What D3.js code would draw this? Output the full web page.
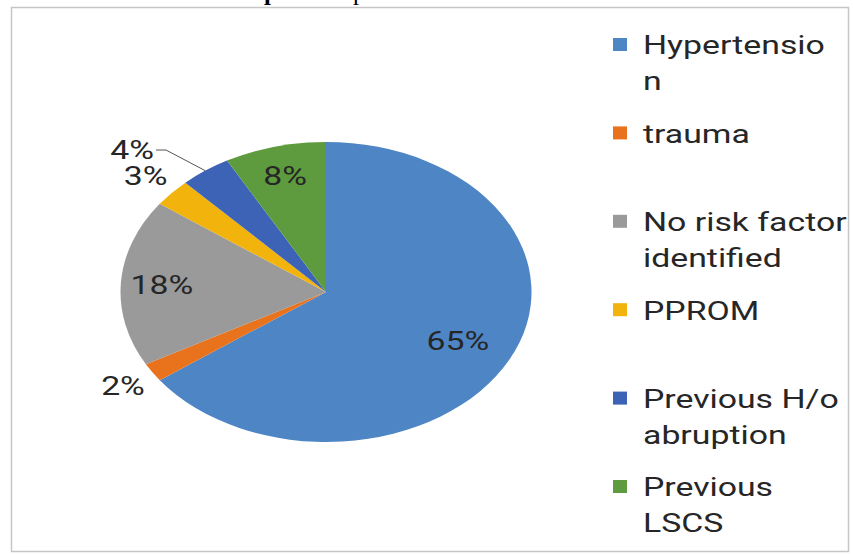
<!DOCTYPE html>
<html>
<head>
<meta charset="utf-8">
<script src="https://cdn.jsdelivr.net/npm/d3@7/dist/d3.min.js"></script>
<style>
  body { margin: 0; background: #fff; }
  text { font-family: Roboto, "Noto Sans", sans-serif; }
</style>
</head>
<body>
<svg id="chart" width="853" height="554"></svg>
<script>
// Risk factors and their share of cases (%)
const categories = ["Hypertension", "trauma", "No risk factor identified", "PPROM", "Previous H/o abruption", "Previous LSCS"];
const values = [65, 2, 18, 3, 4, 8];
const colors = ["#4e85c5", "#e9721d", "#9a9a9a", "#f1b30c", "#3c63b6", "#5e9b3e"];
// Legend text as it wraps in the legend box
const legendLines = [["Hypertensio", "n"], ["trauma"], ["No risk factor", "identified"], ["PPROM"], ["Previous H/o", "abruption"], ["Previous", "LSCS"]];
const titleBold = "Graph 3:";
const titleRest = " Representation of risk factors";

const W = 853, H = 554;
const svg = d3.select("#chart");

// Caption sitting above the chart box (mostly off the top edge)
const title = svg.append("text")
  .attr("x", 221).attr("y", -0.5)
  .style("font-family", "'Liberation Serif', 'Times New Roman', serif")
  .style("font-size", "25px").attr("fill", "#000");
title.append("tspan").style("font-weight", "bold").text(titleBold);
title.append("tspan").text(titleRest);

// Chart box
const box = { x: 11.5, y: 7.5, w: 837, h: 544 };
svg.append("rect")
  .attr("x", box.x).attr("y", box.y).attr("width", box.w).attr("height", box.h)
  .attr("fill", "#fff").attr("stroke", "#c6c6c6").attr("stroke-width", 1.5);
svg.append("clipPath").attr("id", "boxClip")
  .append("rect").attr("x", box.x + 1).attr("y", box.y + 1).attr("width", box.w - 2).attr("height", box.h - 2);
const plot = svg.append("g").attr("clip-path", "url(#boxClip)");

// The whole chart is drawn widened horizontally
const SX = 1.37;   // pie stretch
const TX = 1.3;    // text stretch
const R = 150, cx = 326, cy = 292;

const arcs = d3.pie().sort(null).value(d => d)(values);
const arc = d3.arc().innerRadius(0).outerRadius(R);

plot.append("g")
  .attr("transform", `translate(${cx},${cy}) scale(${SX},1)`)
  .selectAll("path").data(arcs).join("path")
  .attr("d", arc)
  .attr("fill", (d, i) => colors[i]);

// Point on the (stretched) pie at angle a and radius factor k
const pt = (a, k) => [cx + SX * R * k * Math.sin(a), cy - R * k * Math.cos(a)];
const mid = d => (d.startAngle + d.endAngle) / 2;

// Data labels: inside for large slices, outside for small ones, with a leader when crowded
const labels = plot.append("g");
let prevOut = null;
arcs.forEach((d, i) => {
  const a = mid(d);
  const txt = d.value + "%";
  let pos, anchor = "middle";
  if (d.value >= 5) {
    pos = pt(a, d.value > 50 ? 0.72 : 0.8);
  } else {
    pos = pt(a, 1.17);
    if (prevOut && Math.hypot(pos[0] - prevOut[0], pos[1] - prevOut[1]) < 60) {
      const edge = pt(a, 1.0);
      const elbow = [edge[0] - (edge[1] - pos[1]) * 1.9, pos[1]];
      const end = [elbow[0] - 10, pos[1]];
      labels.append("path")
        .attr("d", d3.line()([edge, elbow, end]))
        .attr("fill", "none").attr("stroke", "#555").attr("stroke-width", 1);
      pos = [end[0] - 2, pos[1]];
      anchor = "end";
    }
    prevOut = pos;
  }
  labels.append("text")
    .attr("transform", `translate(${pos[0]},${pos[1]}) scale(${TX},1)`)
    .attr("text-anchor", anchor).attr("dy", "0.36em")
    .style("font-size", "26px").attr("fill", "#262626")
    .text(txt);
});

// Legend
const legend = plot.append("g");
const legTop = 45, legStep = 88.4, lineH = 36;
categories.forEach((c, i) => {
  const y0 = legTop + i * legStep;
  legend.append("rect")
    .attr("x", 613).attr("y", y0 - 7).attr("width", 14).attr("height", 13)
    .attr("fill", colors[i]);
  legendLines[i].forEach((line, j) => {
    legend.append("text")
      .attr("transform", `translate(643,${y0 + j * lineH}) scale(${TX},1)`)
      .attr("dy", "0.36em")
      .style("font-size", "26px").attr("fill", "#262626")
      .text(line);
  });
});
</script>
</body>
</html>
